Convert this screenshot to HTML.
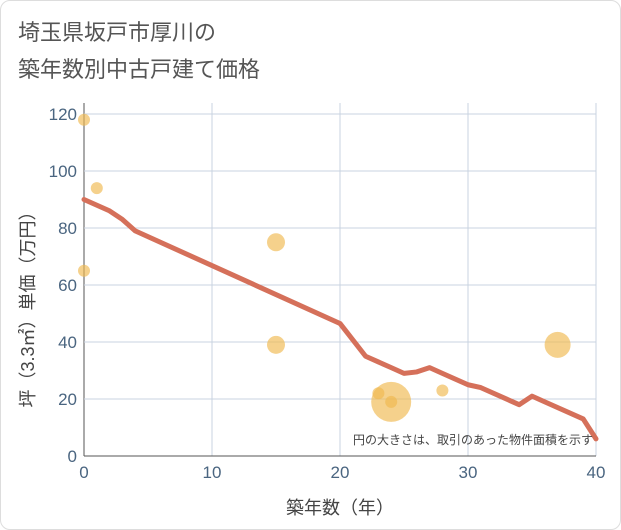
<!DOCTYPE html>
<html><head><meta charset="utf-8"><style>
body{margin:0;background:#fff;font-family:"Liberation Sans","Noto Sans CJK JP",sans-serif;}
#card{position:absolute;left:0;top:0;width:619px;height:528px;border:1px solid #ddd;border-radius:10px;background:#fff;}
</style></head><body>
<div id="card"></div>
<svg id="chart" width="621" height="530" style="position:absolute;left:0;top:0">
<text x="18" y="40" font-size="22" fill="#555">埼玉県坂戸市厚川の</text>
<text x="18" y="77" font-size="22" fill="#555">築年数別中古戸建て価格</text>
<g id="grid"></g><g id="bubbles"></g><g id="line"></g><g id="ticks"></g>
<text x="340" y="514" font-size="18" fill="#444" text-anchor="middle">築年数（年）</text>
<text transform="translate(34,305) rotate(-90)" font-size="18" fill="#444" text-anchor="middle">坪（3.3㎡）単価（万円）</text>
<text x="593" y="444" font-size="12" fill="#444" text-anchor="end">円の大きさは、取引のあった物件面積を示す</text>
</svg>
<script>
const xTicks=[0,10,20,30,40];
const yTicks=[0,20,40,60,80,100,120];
const lineX=[0,2,3,4,20,22,23,24,25,26,27,28,30,31,34,35,36,39,40];
const lineY=[90,86,83,79,46.5,35,33,31,29,29.5,31,29,25,24,18,21,19,13,6];
const bubX=[0,1,0,15,15,24,24,23,28,37];
const bubY=[118,94,65,75,39,19,19,22,23,39];
const bubR=[6,6,6,9,9,20,6,6,6,13];
const NS="http://www.w3.org/2000/svg";
const X0=84,X1=596,Y0=456,Y1=114;
const xs=v=>X0+(v-0)/40*(X1-X0);
const ys=v=>Y0-(v/120)*(Y0-Y1);
function mk(t,a,p){const e=document.createElementNS(NS,t);for(const k in a)e.setAttribute(k,a[k]);p.appendChild(e);return e;}
const g=document.getElementById('grid'),tk=document.getElementById('ticks');
xTicks.forEach(v=>{
 const l=mk('line',{x1:xs(v),x2:xs(v),y1:103,y2:Y0,stroke:v===0?'#555':'#c9d3e0','stroke-width':1},g);
 
 
 const t=mk('text',{x:xs(v),y:478,'font-size':17,fill:'#4a6580','text-anchor':'middle'},tk);t.textContent=v;
 
 
});
yTicks.forEach(v=>{
 const l=mk('line',{x1:X0,x2:X1,y1:ys(v),y2:ys(v),stroke:v===0?'#555':'#c9d3e0','stroke-width':1},g);
 
 
 const t=mk('text',{x:77,y:ys(v)+6,'font-size':17,fill:'#4a6580','text-anchor':'end'},tk);t.textContent=v;
 
 
});
const bg=document.getElementById('bubbles');
bubX.forEach((v,i)=>{
 const c=mk('circle',{cx:xs(v),cy:ys(bubY[i]),r:bubR[i],fill:'#f0b84f','fill-opacity':0.65},bg);
 
 
});
const p=mk('polyline',{points:lineX.map((v,i)=>xs(v)+','+ys(lineY[i])).join(' '),fill:'none',stroke:'#d5705a','stroke-width':5,'stroke-linejoin':'round','stroke-linecap':'round'},document.getElementById('line'));


</script>
</body></html>
